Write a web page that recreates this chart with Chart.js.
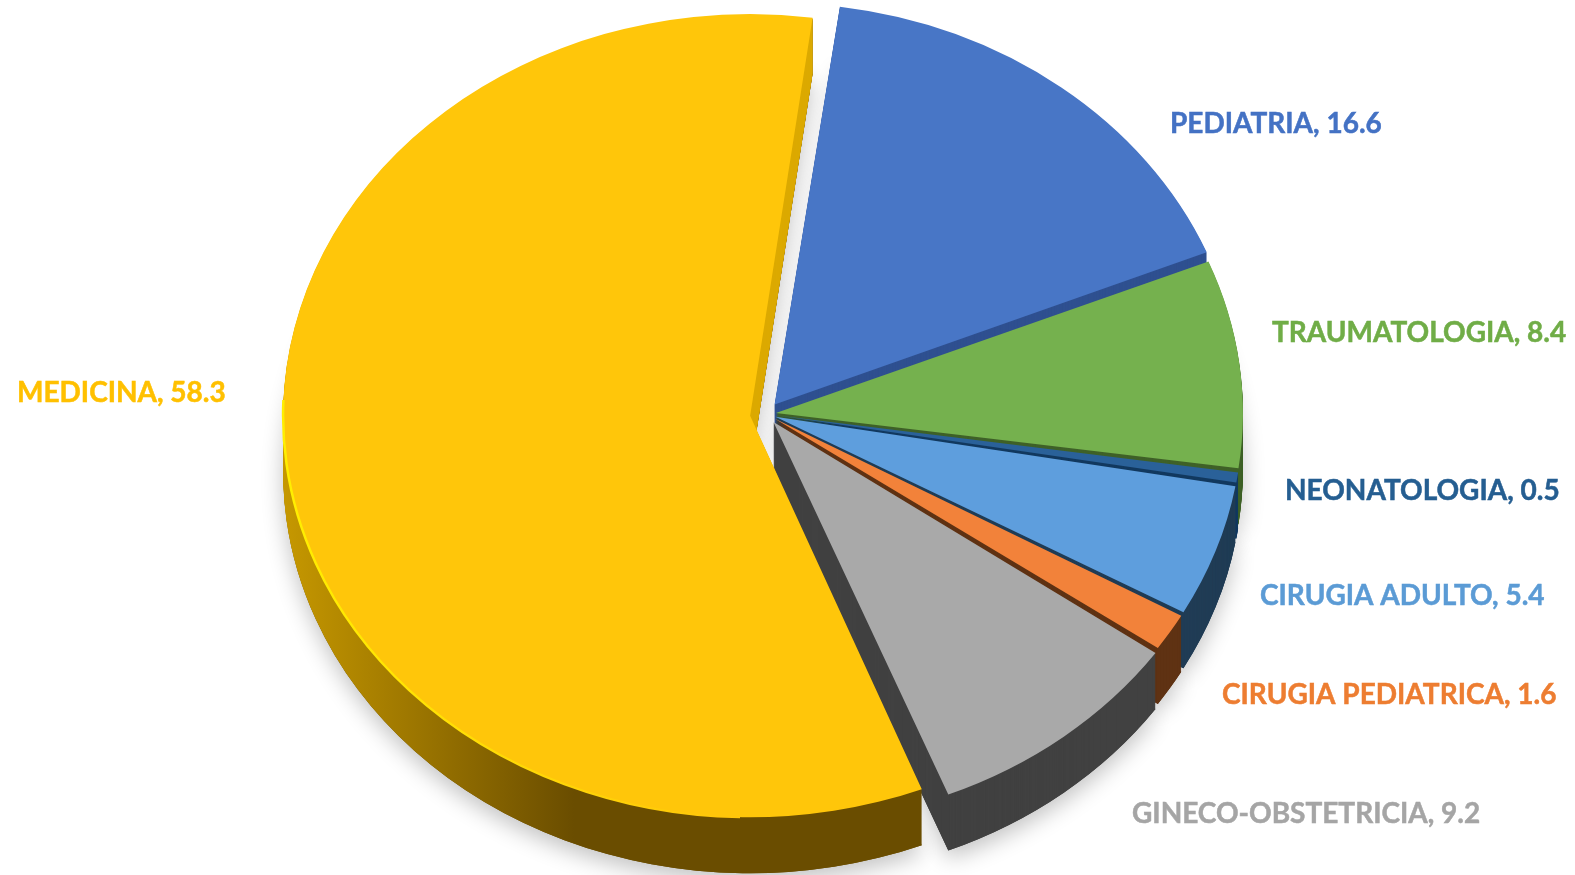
<!DOCTYPE html>
<html>
<head>
<meta charset="utf-8">
<style>
  html, body { margin: 0; background: #fff; }
  canvas { display: block; }
</style>
</head>
<body>
<canvas id="pieChart" width="1575" height="875"></canvas>
<script src="https://cdn.jsdelivr.net/npm/chart.js@4/dist/chart.umd.min.js"></script>
<script>
// data, starts at the top and goes clockwise
const labels = ['PEDIATRIA', 'TRAUMATOLOGIA', 'NEONATOLOGIA', 'CIRUGIA ADULTO', 'CIRUGIA PEDIATRICA', 'GINECO-OBSTETRICIA', 'MEDICINA'];
const values = [16.6, 8.4, 0.5, 5.4, 1.6, 9.2, 58.3];

// colours
const topColors = ['#4876c6', '#75b14e', '#2a6199', '#5e9edd', '#f2823a', '#a9a9a9', '#ffc60a'];
const sideColors = ['#2f5090', '#3f6128', '#12395f', '#203c55', '#5f3213', '#414141', '#6a4d00'];
const textColors = ['#4472c4', '#70ad47', '#255e91', '#5b9bd5', '#ed7d31', '#a5a5a5', '#ffc000'];

// layout
const explode = [56, 40, 40, 40, 40, 48, 64]; // arc element divides this by 4
const labelX = [1170, 1272, 1285, 1260, 1222, 1132, 17];
const labelY = [124, 333, 491, 596, 695, 814, 393];
const squash = 0.86;
const depth = 56;

function inPerspective(ctx, chart, shift, fn) {
  const m = chart.getDatasetMeta(0).data[0];
  ctx.save();
  ctx.translate(m.x, m.y + shift);
  ctx.scale(1, squash);
  ctx.translate(-m.x, -m.y);
  fn();
  ctx.restore();
}

function paintArc(ctx, arc, color) {
  const keep = arc.options;
  arc.options = { ...keep, backgroundColor: color, borderWidth: 0 };
  arc.draw(ctx);
  arc.options = keep;
}

const pie3d = {
  id: 'pie3d',
  afterDatasetsUpdate(chart) {
    // the arc grows its radius with its offset, take that back so all slices stay the same size
    chart.getDatasetMeta(0).data.forEach(arc => {
      const fix = 1 - Math.sin(Math.min(Math.PI, arc.circumference));
      arc.outerRadius -= arc.options.offset / 4 * fix;
    });
  },
  beforeDatasetDraw(chart) {
    const ctx = chart.ctx;
    const arcs = chart.getDatasetMeta(0).data;

    // soft shadow on the floor
    ctx.save();
    ctx.shadowColor = 'rgba(0,0,0,0.24)';
    ctx.shadowBlur = 22;
    ctx.shadowOffsetY = 8;
    inPerspective(ctx, chart, depth, () => {
      arcs.forEach((arc, i) => paintArc(ctx, arc, sideColors[i]));
    });
    ctx.restore();

    // sides of the slices
    const medSide = ctx.createLinearGradient(283, 0, 590, 0);
    medSide.addColorStop(0, '#cb9c00');
    medSide.addColorStop(1, '#6a4d00');
    arcs.forEach((arc, i) => {
      const med = i === arcs.length - 1;
      for (let d = depth; d > 0; d--) {
        inPerspective(ctx, chart, d, () => paintArc(ctx, arc, med ? medSide : sideColors[i]));
      }
      if (med) {
        // cut face by the gap is lit, not dark like the outer wall
        ctx.save();
        ctx.beginPath();
        ctx.rect(700, 0, 200, 480);
        ctx.clip();
        for (let d = depth; d > 0; d--) {
          inPerspective(ctx, chart, d, () => paintArc(ctx, arc, '#dcaa00'));
        }
        ctx.restore();
      }
    });

    const m = arcs[0];
    ctx.save();
    ctx.translate(m.x, m.y);
    ctx.scale(1, squash);
    ctx.translate(-m.x, -m.y);
  },
  afterDatasetDraw(chart) {
    const ctx = chart.ctx;
    ctx.restore();

    // bright rim on the big slice, lower left only
    const arcs = chart.getDatasetMeta(0).data;
    const med = arcs[arcs.length - 1];
    const rim = ctx.createLinearGradient(283, 0, 740, 0);
    rim.addColorStop(0, '#fff000');
    rim.addColorStop(1, '#ffc60a');
    ctx.save();
    ctx.beginPath();
    ctx.rect(270, 400, 470, 460);
    ctx.clip();
    inPerspective(ctx, chart, 0, () => {
      const keep = med.options;
      med.options = { ...keep, borderColor: rim, borderWidth: 2.5, borderAlign: 'center' };
      med.draw(ctx);
      med.options = keep;
    });
    ctx.restore();
  },
  afterDraw(chart) {
    const ctx = chart.ctx;
    ctx.save();
    ctx.font = 'bold 28px Lato';
    ctx.textBaseline = 'middle';
    ctx.lineWidth = 0.5;
    labels.forEach((name, i) => {
      const text = name + ', ' + values[i];
      ctx.fillStyle = textColors[i];
      ctx.strokeStyle = textColors[i];
      ctx.fillText(text, labelX[i], labelY[i]);
      ctx.strokeText(text, labelX[i], labelY[i]);
    });
    ctx.restore();
  }
};

const chart_ctx = document.getElementById('pieChart');
const pieChart = new Chart(chart_ctx, {
  type: 'pie',
  plugins: [pie3d],
  data: {
    labels: labels,
    datasets: [{
      data: values,
      backgroundColor: topColors,
      offset: explode,
      borderWidth: 0
    }]
  },
  options: {
    responsive: false,
    animation: false,
    events: [],
    rotation: 8,
    radius: 467,
    layout: { padding: { right: 43, bottom: 47 } },
    plugins: {
      legend: { display: false },
      tooltip: { enabled: false }
    }
  }
});
</script>
</body>
</html>
